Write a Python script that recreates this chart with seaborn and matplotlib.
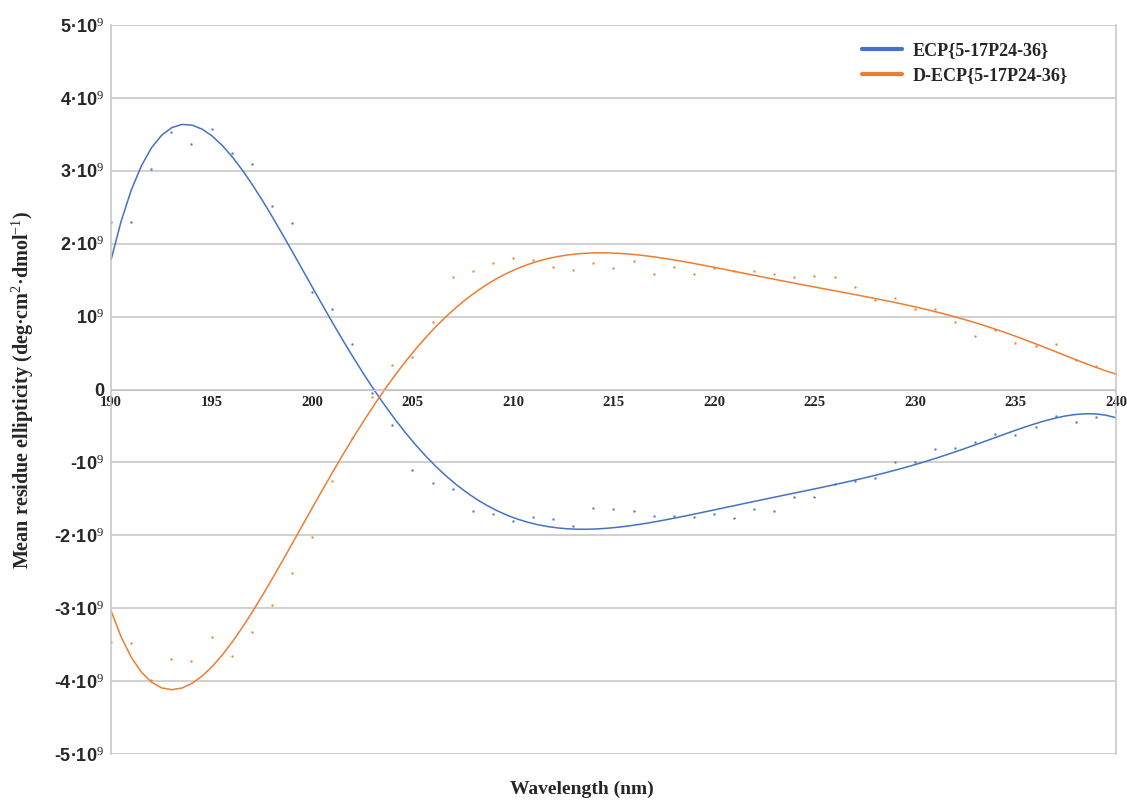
import numpy as np
import pandas as pd
import matplotlib
matplotlib.use("Agg")
import matplotlib.pyplot as plt
from matplotlib.lines import Line2D
import seaborn as sns

wavelength = list(range(190, 241))
ecp = [2.30, 2.30, 3.02, 3.53, 3.37, 3.58, 3.24, 3.10, 2.52, 2.28,
       1.34, 1.10, 0.62, -0.05, -0.49, -1.10, -1.28, -1.37, -1.66, -1.71,
       -1.81, -1.75, -1.77, -1.87, -1.62, -1.64, -1.67, -1.73, -1.73, -1.75,
       -1.71, -1.76, -1.64, -1.67, -1.48, -1.47, -1.30, -1.26, -1.22, -0.99,
       -0.99, -0.81, -0.80, -0.72, -0.61, -0.62, -0.52, -0.37, -0.45, -0.38,
       -0.30]
decp = [-3.47, -3.48, -3.98, -3.70, -3.73, -3.40, -3.66, -3.33, -2.96, -2.52,
        -2.02, -1.26, -0.67, -0.10, 0.33, 0.44, 0.92, 1.54, 1.62, 1.73,
        1.80, 1.78, 1.68, 1.64, 1.74, 1.66, 1.76, 1.59, 1.68, 1.59,
        1.66, 1.62, 1.62, 1.59, 1.54, 1.56, 1.54, 1.41, 1.23, 1.25,
        1.10, 1.11, 0.93, 0.74, 0.81, 0.64, 0.60, 0.62, 0.40, 0.32,
        0.23]
series_names = ["ECP{5-17P24-36}", "D-ECP{5-17P24-36}"]
colors = ["#4472C4", "#ED7D31"]
ytick_vals = [5, 4, 3, 2, 1, 0, -1, -2, -3, -4, -5]
ytick_labels = ["5·10$^{9}$", "4·10$^{9}$", "3·10$^{9}$", "2·10$^{9}$", "10$^{9}$", "0",
                "-10$^{9}$", "-2·10$^{9}$", "-3·10$^{9}$", "-4·10$^{9}$", "-5·10$^{9}$"]
xtick_vals = [190, 195, 200, 205, 210, 215, 220, 225, 230, 235, 240]

scale = 1e9
df = pd.DataFrame({
    "wl": wavelength * 2,
    "val": [v * scale for v in ecp] + [v * scale for v in decp],
    "series": [series_names[0]] * len(ecp) + [series_names[1]] * len(decp),
})

sns.set_style("white")
plt.rcParams["mathtext.fontset"] = "custom"
plt.rcParams["mathtext.rm"] = "Liberation Serif"
plt.rcParams["mathtext.it"] = "Liberation Serif:italic"
plt.rcParams["mathtext.bf"] = "Liberation Serif:bold"

fig = plt.figure(figsize=(11.27, 8.0), dpi=100)
ax = fig.add_axes([111 / 1127, 1 - 754 / 800, (1116 - 111) / 1127, (754 - 25) / 800])

for name, col in zip(series_names, colors):
    sub = df[df["series"] == name]
    sns.regplot(data=sub, x="wl", y="val", order=6, ci=None, ax=ax,
                color=col, truncate=True,
                scatter_kws={"s": 3, "linewidths": 0, "alpha": 0.9},
                line_kws={"lw": 1.1})

ax.spines["bottom"].set_position(("data", 0))
ax.spines["bottom"].set_color("#c4c4c4")
ax.spines["top"].set_visible(False)
for s in ["left", "right"]:
    ax.spines[s].set_color("#c4c4c4")
    ax.spines[s].set_linewidth(1.1)

ax.set_xlim(190, 240)
ax.set_ylim(-5 * scale, 5 * scale)
ax.set_yticks([v * scale for v in ytick_vals])
ax.set_yticklabels(ytick_labels, fontsize=13, fontweight="bold",
                   family=["Liberation Sans", "DejaVu Sans"])
ax.set_xticks(xtick_vals)
ax.set_xticklabels([str(v) for v in xtick_vals], fontsize=10.5, fontweight="bold",
                   family="Liberation Serif")
ax.tick_params(axis="both", length=0)
ax.tick_params(axis="x", pad=5)
ax.tick_params(axis="y", pad=5)

ax.grid(axis="y", color="#c4c4c4", lw=1.1)
ax.set_axisbelow(True)

ax.set_xlabel("Wavelength (nm)", fontsize=14, fontweight="bold", family="Liberation Serif")
ax.xaxis.set_label_coords(0.469, -0.037)
ax.set_ylabel("Mean residue ellipticity (deg·cm$^{2}$·dmol$^{-1}$)", fontsize=14.5,
              fontweight="bold", family=["Liberation Serif", "DejaVu Serif"])
ax.yaxis.set_label_coords(-0.075, 0.5)

handles = [Line2D([0], [0], color=c, lw=3) for c in colors]
leg = ax.legend(handles, series_names, loc="upper right", bbox_to_anchor=(0.968, 0.999),
                frameon=False, handlelength=2.2, handletextpad=0.6, labelspacing=0.45,
                prop={"family": "Liberation Serif", "weight": "bold", "size": 13})

fig.savefig("out.png", dpi=100)
